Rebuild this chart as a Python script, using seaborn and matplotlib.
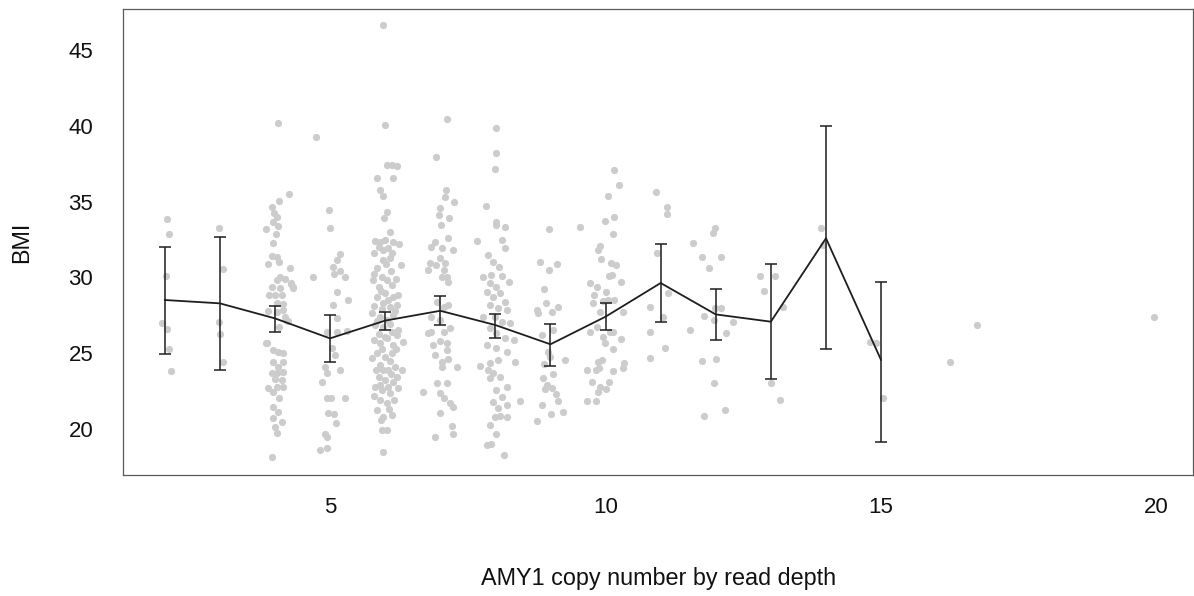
import numpy as np
import pandas as pd
import matplotlib
matplotlib.use("Agg")
import matplotlib.pyplot as plt
import seaborn as sns

# ---- individual samples: jittered copy number and BMI, per copy-number group ----
cn2_x = [2.05, 2.08, 2.02, 1.96, 2.05, 2.08, 2.11]
cn2_bmi = [33.85, 32.84, 30.09, 27.00, 26.57, 25.30, 23.85]

cn3_x = [2.99, 3.05, 2.98, 3.00, 3.05]
cn3_bmi = [33.28, 30.53, 27.08, 26.27, 24.40]

cn4_x = [4.05, 4.26, 4.08, 3.94, 3.98, 4.03, 3.97, 4.06, 3.83, 4.02, 3.96, 3.94, 4.03, 4.08, 3.88,
         4.27, 4.18, 4.03, 4.09, 4.29, 4.32, 3.94, 4.09, 4.00, 4.12, 3.90, 4.03, 4.15, 3.88, 4.03,
         4.18, 4.24, 4.08, 3.85, 3.96, 4.06, 4.15, 3.97, 4.15, 4.06, 3.94, 4.03, 4.14, 4.00, 4.12,
         4.03, 3.88, 4.15, 3.97, 4.08, 3.96, 4.06, 4.12, 3.97, 4.00, 4.03, 3.94, 4.33, 4.30, 4.21,
         3.84, 4.15]
cn4_bmi = [40.16, 35.48, 35.06, 34.62, 34.22, 33.96, 33.67, 33.39, 33.19, 32.86, 32.24, 31.41, 31.32, 31.03, 30.86,
           30.64, 29.87, 29.82, 30.04, 29.56, 29.34, 29.34, 29.27, 28.83, 28.83, 28.83, 28.33, 27.85, 27.80, 27.74,
           27.40, 27.14, 26.75, 25.65, 25.21, 25.10, 24.99, 24.44, 24.44, 24.11, 23.71, 23.71, 23.78, 23.27, 23.23,
           22.79, 22.68, 22.79, 22.46, 22.02, 21.47, 21.14, 20.48, 20.70, 20.15, 19.71, 18.13, 29.28, 29.61, 27.19,
           25.69, 28.24]

cn5_x = [4.74, 4.98, 5.00, 5.18, 5.13, 5.05, 5.18, 5.07, 5.27, 4.69, 5.13, 5.33, 5.06, 5.12, 4.94,
         5.12, 5.30, 5.03, 5.09, 5.18, 4.91, 4.94, 4.85, 4.94, 5.01, 5.27, 4.97, 5.07, 5.10, 4.91,
         4.94, 4.82, 4.95]
cn5_bmi = [39.28, 34.44, 33.28, 31.54, 31.15, 30.71, 30.44, 30.22, 30.05, 30.05, 29.06, 28.51, 28.18, 27.30, 26.42,
           26.42, 26.48, 25.32, 24.88, 23.89, 24.11, 23.67, 23.12, 22.06, 22.06, 22.06, 21.08, 20.99, 20.37, 19.65,
           19.49, 18.61, 18.72]

cn6_x = [5.96, 6.00, 6.03, 6.12, 6.21, 5.86, 6.15, 5.91, 5.96, 6.03, 5.98, 6.08, 5.82, 5.91, 6.00,
         6.15, 6.26, 5.79, 5.88, 5.97, 6.06, 5.97, 6.09, 5.85, 5.94, 6.03, 6.12, 5.88, 6.00, 6.15,
         6.24, 5.85, 5.97, 6.09, 6.21, 5.76, 5.91, 6.03, 6.15, 5.82, 5.97, 6.12, 6.24, 5.79, 5.91,
         6.03, 6.15, 6.32, 5.85, 6.00, 6.12, 5.76, 5.91, 6.06, 6.18, 6.30, 5.88, 6.00, 6.15, 5.82,
         5.94, 6.09, 6.24, 5.91, 6.03, 5.85, 5.97, 6.12, 5.94, 6.03, 5.97,
         5.80, 6.10, 6.20, 5.92, 6.05, 5.80, 6.18, 5.95, 6.08, 5.88, 6.00, 6.20, 5.94, 6.08, 5.84,
         6.10, 5.96, 6.22, 5.90, 6.05, 6.16, 5.80, 6.07, 5.92, 6.02, 5.86, 6.12, 6.28, 5.78, 6.22]
cn6_bmi = [46.65, 40.05, 37.41, 37.41, 37.37, 36.57, 36.53, 35.76, 35.37, 34.33, 33.89, 33.01, 32.42, 32.35, 32.46,
           32.35, 32.20, 31.58, 31.98, 31.80, 31.91, 31.14, 31.25, 30.59, 30.05, 29.83, 29.50, 29.39, 28.95, 28.73,
           28.84, 28.73, 28.29, 28.07, 28.18, 27.63, 27.41, 27.19, 27.52, 26.86, 26.75, 26.42, 26.53, 25.87, 25.65,
           25.98, 25.54, 25.76, 24.99, 24.77, 24.99, 24.66, 24.22, 23.89, 24.11, 23.89, 23.45, 23.23, 23.12, 22.79,
           22.57, 22.35, 22.68, 21.91, 21.69, 21.25, 20.81, 20.92, 19.93, 19.93, 18.50,
           30.20, 30.40, 29.90, 29.10, 28.50, 28.10, 27.80, 27.90, 26.90, 26.30, 26.10, 25.30, 25.30, 24.50, 23.90,
           23.60, 23.90, 23.40, 22.90, 22.80, 21.90, 22.20, 21.30, 20.60, 30.90, 27.10, 31.60, 30.80, 29.80, 26.20]

cn7_x = [7.12, 6.92, 7.11, 7.09, 7.25, 7.00, 6.97, 7.16, 7.01, 7.14, 7.24, 6.91, 6.84, 7.03, 6.81,
         7.00, 6.92, 7.09, 6.78, 7.06, 7.12, 7.15, 7.03, 6.94, 6.84, 7.06, 7.15, 7.00, 6.84, 6.78,
         7.06, 7.18, 7.00, 7.12, 6.86, 7.12, 6.91, 7.03, 7.15, 7.30, 7.03, 6.68, 6.94, 7.12, 7.00,
         7.06, 7.18, 7.24, 7.00, 7.21, 7.24, 6.91]
cn7_bmi = [40.43, 37.92, 35.77, 35.33, 34.95, 34.56, 34.12, 33.90, 33.44, 32.58, 31.81, 32.36, 32.03, 31.92, 30.93,
           31.26, 30.82, 30.93, 30.49, 30.49, 30.05, 29.72, 30.05, 28.40, 27.41, 28.07, 28.18, 27.19, 26.42, 26.36,
           26.42, 26.64, 25.83, 25.65, 25.54, 25.21, 24.88, 24.44, 24.60, 24.07, 24.11, 22.46, 23.06, 23.01, 22.35,
           22.02, 21.69, 21.47, 21.03, 20.20, 19.67, 19.50]

cn8_x = [8.02, 8.01, 7.99, 7.83, 8.01, 8.18, 8.02, 7.66, 8.12, 8.18, 7.87, 7.96, 8.07, 7.78, 7.93,
         8.12, 8.24, 7.90, 8.02, 7.84, 7.96, 8.08, 8.18, 7.90, 8.05, 8.21, 7.78, 7.99, 8.12, 8.27,
         7.90, 8.02, 8.18, 8.33, 7.84, 8.02, 8.21, 7.72, 7.90, 8.05, 8.36, 7.87, 7.96, 8.08, 7.90,
         8.21, 8.02, 8.12, 7.96, 8.21, 8.05, 8.08, 7.99, 8.21, 7.90, 8.02, 7.84, 7.93, 8.15, 8.44]
cn8_bmi = [39.83, 38.19, 37.13, 34.71, 33.68, 33.35, 33.46, 32.43, 32.47, 31.96, 31.48, 31.04, 30.71, 30.05, 30.16,
           30.09, 29.72, 29.61, 29.39, 29.06, 28.73, 28.95, 28.40, 28.18, 27.96, 27.85, 27.41, 27.41, 27.08, 26.97,
           26.64, 26.31, 25.98, 25.87, 25.54, 25.32, 25.10, 24.16, 24.33, 24.55, 24.44, 23.89, 23.67, 23.45, 23.34,
           22.79, 22.57, 22.13, 21.80, 21.58, 21.37, 20.86, 20.81, 20.81, 20.27, 19.67, 18.95, 19.01, 18.29, 21.87]

cn9_x = [8.97, 9.53, 8.81, 8.97, 9.11, 8.88, 8.92, 8.75, 8.78, 9.02, 9.14, 8.84, 9.05, 8.88, 8.99,
         8.87, 8.93, 8.90, 9.02, 9.26, 9.14, 9.22, 9.01, 8.76, 9.05, 8.95, 9.10, 8.85]
cn9_bmi = [33.19, 33.30, 30.99, 30.49, 30.88, 29.23, 28.33, 27.85, 27.63, 27.74, 28.02, 26.20, 26.53, 24.29, 24.77,
           23.34, 22.90, 22.61, 22.68, 24.55, 21.85, 21.14, 20.99, 20.55, 23.60, 25.10, 22.30, 21.60]

cn10_x = [10.16, 10.25, 10.05, 10.15, 9.99, 10.13, 9.90, 9.87, 9.91, 10.09, 10.19, 10.07, 10.11, 10.28, 9.72,
          9.85, 9.79, 10.01, 9.77, 9.95, 10.05, 10.15, 10.31, 9.90, 9.72, 9.84, 9.95, 10.08, 10.14, 9.99,
          10.13, 10.28, 9.87, 9.93, 9.89, 9.83, 9.66, 10.14, 10.34, 10.32, 9.75, 10.07, 9.90, 10.01, 9.87,
          9.67, 9.83]
cn10_bmi = [37.08, 36.09, 35.37, 34.00, 33.74, 32.84, 32.09, 31.80, 31.21, 30.92, 30.81, 30.09, 30.13, 29.72, 29.61,
            29.39, 28.84, 29.06, 28.33, 28.46, 28.51, 28.51, 27.74, 27.74, 26.42, 26.70, 26.09, 26.42, 26.42, 25.65,
            25.25, 25.93, 24.44, 24.55, 24.00, 23.89, 23.89, 23.82, 24.33, 24.00, 23.08, 23.08, 22.79, 22.61, 22.46,
            21.87, 21.87]

cn11_x = [10.92, 11.11, 11.12, 10.93, 10.80, 11.14, 11.05, 10.80, 11.08, 10.80]
cn11_bmi = [35.61, 34.62, 34.18, 31.58, 28.07, 28.95, 27.41, 26.42, 25.32, 24.70]

cn12_x = [11.99, 11.95, 11.75, 12.09, 11.87, 11.99, 12.09, 11.79, 11.96, 12.31, 12.19, 11.75, 12.01, 11.97, 11.78,
          12.16, 11.58, 11.53]
cn12_bmi = [33.23, 32.90, 31.32, 31.32, 30.59, 27.96, 28.00, 27.47, 27.19, 27.03, 26.31, 24.48, 24.59, 23.01, 20.88,
            21.25, 32.29, 26.53]

cn13_x = [12.80, 13.08, 12.88, 13.22, 13.00, 13.17]
cn13_bmi = [30.09, 30.09, 29.12, 28.07, 23.05, 21.91]

cn14_x = [13.905, 13.95]
cn14_bmi = [33.28, 32.12]

cn15_x = [14.80, 14.91, 15.03]
cn15_bmi = [25.76, 25.65, 22.02]

cn_high_x = [16.25, 16.74, 19.95]
cn_high_bmi = [24.44, 26.86, 27.37]

# ---- group summaries: mean BMI with 95% confidence interval ----
copy_number = [2, 3, 4, 5, 6, 7, 8, 9, 10, 11, 12, 13, 14, 15]
mean_bmi = [28.51, 28.29, 27.30, 25.98, 27.15, 27.80, 26.86, 25.59, 27.41, 29.63, 27.56, 27.08, 32.58, 24.55]
ci_low = [24.97, 23.89, 26.38, 24.42, 26.53, 26.86, 26.02, 24.18, 26.53, 27.06, 25.87, 23.28, 25.26, 19.16]
ci_high = [32.03, 32.69, 28.11, 27.52, 27.74, 28.80, 27.59, 26.90, 28.29, 32.22, 29.21, 30.86, 40.00, 29.72]

x_ticks = [5, 10, 15, 20]
y_ticks = [20, 25, 30, 35, 40, 45]

# ---- assemble the sample table ----
groups_x = [cn2_x, cn3_x, cn4_x, cn5_x, cn6_x, cn7_x, cn8_x, cn9_x, cn10_x,
            cn11_x, cn12_x, cn13_x, cn14_x, cn15_x, cn_high_x]
groups_y = [cn2_bmi, cn3_bmi, cn4_bmi, cn5_bmi, cn6_bmi, cn7_bmi, cn8_bmi, cn9_bmi, cn10_bmi,
            cn11_bmi, cn12_bmi, cn13_bmi, cn14_bmi, cn15_bmi, cn_high_bmi]
samples = pd.DataFrame({
    "copy": np.concatenate(groups_x),
    "bmi": np.concatenate(groups_y),
})
summary = pd.DataFrame({"copy": copy_number, "mean": mean_bmi,
                        "lo": ci_low, "hi": ci_high})

# ---- figure ----
sns.set_style("white")
plt.rcParams["font.family"] = ["Liberation Sans", "DejaVu Sans"]

W, H = 1194, 596
fig = plt.figure(figsize=(W / 100, H / 100), dpi=100)
left, right, top, bottom = 123.3, 1193.0, 9.0, 475.0
ax = fig.add_axes([left / W, 1 - bottom / H, (right - left) / W, (bottom - top) / H])

sns.scatterplot(data=samples, x="copy", y="bmi", color="#cccccc", s=27,
                linewidth=0, ax=ax, zorder=1)
sns.lineplot(data=summary, x="copy", y="mean", color="#1e1e1e", linewidth=1.3,
             errorbar=None, ax=ax, zorder=3)
ax.errorbar(summary["copy"], summary["mean"],
            yerr=[summary["mean"] - summary["lo"], summary["hi"] - summary["mean"]],
            fmt="none", ecolor="#1e1e1e", elinewidth=1.1, capsize=4.4,
            capthick=1.1, zorder=4)

ax.set_xlim(1.249, 20.66)
ax.set_ylim(16.97, 47.70)
ax.set_xticks(x_ticks)
ax.set_yticks(y_ticks)

for sp in ax.spines.values():
    sp.set_visible(True)
    sp.set_color("#5a5a5a")
    sp.set_linewidth(0.9)

ax.tick_params(axis="both", direction="out", length=10.8, width=0.9,
               color="#5a5a5a", labelsize=16, labelcolor="#111111")
ax.tick_params(axis="x", pad=5.0)
ax.tick_params(axis="y", pad=10.8)

ax.set_xlabel("AMY1 copy number by read depth", fontsize=16.8, color="#111111", va="center")
ax.xaxis.set_label_coords(0.5, (bottom - 578) / (bottom - top))
ax.set_ylabel("BMI", fontsize=16.8, color="#111111", va="center")
ax.yaxis.set_label_coords((22 - left) / (right - left), 0.5)

fig.savefig("out.png", dpi=100)
